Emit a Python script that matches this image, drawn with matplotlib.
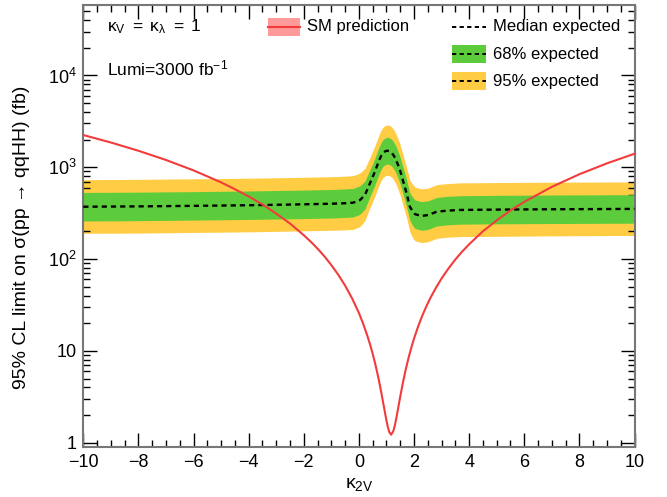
import matplotlib
matplotlib.use("Agg")
import matplotlib.pyplot as plt
from matplotlib.patches import Rectangle
from matplotlib.lines import Line2D
from matplotlib.ticker import FixedLocator, FixedFormatter, MultipleLocator, NullFormatter

plt.rcParams['font.family'] = ['Liberation Sans', 'DejaVu Sans']
plt.rcParams['mathtext.fontset'] = 'custom'
plt.rcParams['mathtext.rm'] = 'Liberation Sans'
plt.rcParams['mathtext.it'] = 'Liberation Sans'
plt.rcParams['mathtext.bf'] = 'Liberation Sans:bold'

# Expected limit on sigma(pp -> qqHH) [fb] versus kappa_2V
k_exp = [-10, -8, -6, -4, -2, -1, -0.5, -0.2, 0.04, 0.22, 0.40, 0.58, 0.74, 0.81, 0.885,
         0.96, 1.03, 1.11, 1.19, 1.27, 1.35, 1.49, 1.61, 1.73, 1.85, 1.95, 2.04, 2.28, 2.52,
         2.82, 3.19, 3.67, 5, 7, 10]
median = [372, 375, 380, 386, 395, 401, 406, 412, 440, 499, 669, 896, 1202, 1334, 1442,
          1496, 1517, 1496, 1442, 1334, 1202, 935, 697, 521, 372, 331, 308, 295, 302,
          328, 337, 343, 346, 349, 352]
band68_hi = [532, 536, 543, 552, 565, 573, 581, 589, 629, 709, 937, 1254, 1683, 1868, 2019,
             2094, 2124, 2094, 2019, 1868, 1683, 1309, 976, 729, 525, 473, 440, 422, 432,
             469, 482, 490, 495, 499, 503]
band68_lo = [260, 262, 266, 270, 276, 280, 284, 288, 308, 351, 478, 640, 859, 953, 1030,
             1069, 1084, 1069, 1030, 953, 859, 668, 498, 372, 264, 232, 215, 206, 211,
             229, 236, 240, 242, 244, 246]
band95_hi = [733, 739, 749, 760, 778, 790, 800, 812, 867, 973, 1278, 1711, 2296, 2548, 2754,
             2857, 2897, 2857, 2754, 2548, 2296, 1786, 1331, 995, 718, 652, 607, 581, 595,
             646, 664, 676, 682, 688, 693]
band95_lo = [191, 192, 195, 198, 203, 206, 208, 211, 226, 263, 362, 484, 650, 721, 779,
             809, 820, 809, 779, 721, 650, 505, 377, 282, 198, 170, 158, 151, 155,
             168, 173, 176, 177, 179, 181]

# SM prediction of sigma(pp -> qqHH) [fb]
k_sm = [-10, -9, -8, -7, -6, -5, -4.5, -4, -3.5, -3, -2.5, -2, -1.75, -1.5, -1.25, -1,
        -0.75, -0.5, -0.25, 0, 0.15, 0.3, 0.4, 0.5, 0.6, 0.7, 0.8, 0.9, 1.0, 1.05, 1.1,
        1.17, 1.25, 1.3, 1.35, 1.4, 1.5, 1.6, 1.7, 1.8, 1.9, 2.0, 2.15, 2.3, 2.45, 2.6,
        2.8, 3.0, 3.25, 3.5, 3.75, 4, 4.5, 5, 5.5, 6, 7, 8, 9, 10]
sigma_sm = [2246, 1862, 1514, 1201, 925, 685, 577, 482, 394, 313, 244, 182, 155, 130,
            107, 86, 67.6, 51.4, 37.5, 25.9, 19.9, 14.8, 11.9, 9.3, 7.07, 5.2, 3.68, 2.53,
            1.74, 1.48, 1.31, 1.22, 1.34, 1.52, 1.80, 2.17, 3.18, 4.55, 6.28, 8.36, 10.8,
            13.6, 18.5, 24.2, 30.7, 38, 49, 61.5, 79, 99, 121, 145, 201, 264, 339, 420,
            612, 840, 1104, 1404]

y_ticks = [1, 10, 100, 1000, 10000]
y_tick_labels = ['1', '10', r'$10^{2}$', r'$10^{3}$', r'$10^{4}$']
x_ticks = [-10, -8, -6, -4, -2, 0, 2, 4, 6, 8, 10]

GREEN = '#5dcc3c'
YELLOW = '#ffcc44'
RED = '#f23c3c'
PINK = '#ff9a9a'

W, H = 667, 497
fig = plt.figure(figsize=(W / 100, H / 100), dpi=100)
ax = fig.add_axes([83.3 / W, 1 - 446.7 / H, (634.5 - 83.3) / W, (446.7 - 5) / H])

ax.fill_between(k_exp, band95_lo, band95_hi, color=YELLOW, lw=0, zorder=1)
ax.fill_between(k_exp, band68_lo, band68_hi, color=GREEN, lw=0, zorder=2)
ax.plot(k_exp, median, color='black', lw=1.7, ls=(0, (2.2, 1.7)), zorder=3)
ax.plot(k_sm, sigma_sm, color=RED, lw=1.5, zorder=4)

ax.set_yscale('log')
ax.set_xlim(-10, 10)
ax.set_ylim(0.904, 58600)

ax.yaxis.set_major_locator(FixedLocator(y_ticks))
ax.yaxis.set_major_formatter(FixedFormatter(y_tick_labels))
ax.yaxis.set_minor_formatter(NullFormatter())
ax.xaxis.set_major_locator(FixedLocator(x_ticks))
ax.xaxis.set_minor_locator(MultipleLocator(0.5))

ax.tick_params(which='both', direction='in', top=True, right=True, color='black',
               width=1.0, labelsize=13)
ax.tick_params(which='major', length=10, pad=5)
ax.tick_params(which='minor', length=5)
for s in ax.spines.values():
    s.set_color('#777777')
    s.set_linewidth(1.5)

ax.set_xlabel(r'$\mathregular{κ_{2V}}$', fontsize=14, labelpad=4)
fig.text(22 / W, 1 - 237 / H, '95% CL limit on σ(pp → qqHH) (fb)', rotation=90,
         ha='center', va='center', fontsize=14)


def fx(x):
    return x / W


def fy(y):
    return 1 - y / H


# annotations
fig.text(fx(107), fy(27), r'$\mathregular{κ_{V}\ =\ κ_{λ}\ =\ 1}$', fontsize=12.5,
         va='center', ha='left')
fig.text(fx(107), fy(68), r'Lumi=3000 fb$^{\mathregular{-1}}$', fontsize=12.5,
         va='center', ha='left')

# legend: SM prediction
fig.add_artist(Rectangle((fx(268), fy(36)), fx(300) - fx(268), fy(18) - fy(36),
                         transform=fig.transFigure, facecolor=PINK, edgecolor='none'))
fig.add_artist(Line2D([fx(268), fx(300)], [fy(27), fy(27)], transform=fig.transFigure,
                      color=RED, lw=1.5))
fig.text(fx(307), fy(27), 'SM prediction', fontsize=12, va='center', ha='left')

# legend: expected
legend_rows = [('Median expected', None, 27),
               ('68% expected', GREEN, 54),
               ('95% expected', YELLOW, 81)]
for label, col, yc in legend_rows:
    if col is not None:
        fig.add_artist(Rectangle((fx(452), fy(yc + 9)), fx(486) - fx(452), fy(yc - 9) - fy(yc + 9),
                                 transform=fig.transFigure, facecolor=col, edgecolor='none'))
    fig.add_artist(Line2D([fx(452), fx(486)], [fy(yc), fy(yc)], transform=fig.transFigure,
                          color='black', lw=1.4, ls=(0, (2.2, 1.7))))
    fig.text(fx(493), fy(yc), label, fontsize=12, va='center', ha='left')

fig.savefig('out.png', dpi=100)
